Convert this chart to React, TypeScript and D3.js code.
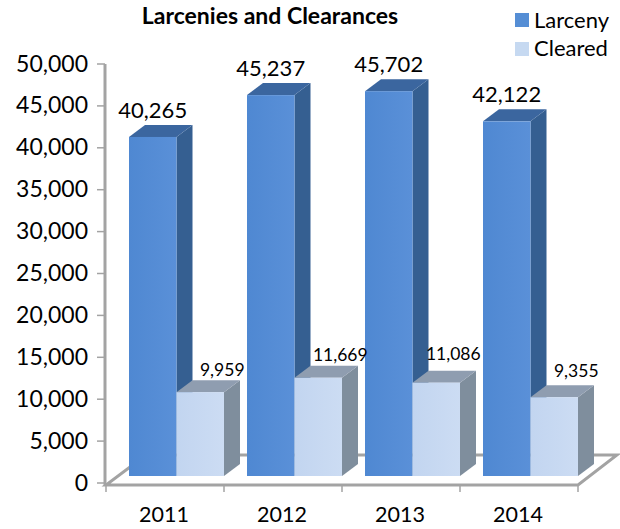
import * as d3 from "d3";

const years = ["2011", "2012", "2013", "2014"];
const larceny = [40265, 45237, 45702, 42122];
const cleared = [9959, 11669, 11086, 9355];
const yTicks = [0, 5000, 10000, 15000, 20000, 25000, 30000, 35000, 40000, 45000, 50000];

const W = 620;
const H = 529;
const FONT = "Lato, Carlito, sans-serif";
const GRAY = "#a3a3a3";
const DX = 16; // bar depth
const DY = 12;

const fmt = d3.format(",");

function App() {
  const x = d3.scaleBand().domain(years).range([106, 578]);
  // axis on the wall and bars on the floor sit on slightly different planes
  const yAxis = d3.scaleLinear().domain([0, 50000]).range([483, 64]);
  const yBar = d3.scaleLinear().domain([0, 50000]).range([476, 55]);
  const inner = d3.scaleBand().domain(["larceny", "cleared"]).range([23, 118]);
  const base = yBar(0);
  const bw = inner.bandwidth();

  const bar = (left: number, v: number, front: string, side: string, top: string, key: string) => {
    const t = yBar(v);
    const r = left + bw;
    return (
      <g key={key}>
        <polygon points={`${r},${t} ${r + DX},${t - DY} ${r + DX},${base - DY} ${r},${base}`} fill={side} />
        <polygon points={`${left},${t} ${left + DX},${t - DY} ${r + DX},${t - DY} ${r},${t}`} fill={top} />
        <rect x={left} y={t} width={bw} height={base - t} fill={front} />
      </g>
    );
  };

  return (
    <svg width={W} height={H} style={{ position: "absolute", left: 0, top: 0, background: "#fff" }}>
      <defs>
        <linearGradient id="blue" x1="0" x2="1" y1="0" y2="0">
          <stop offset="0" stopColor="#4f88d2" />
          <stop offset="1" stopColor="#5a90d8" />
        </linearGradient>
        <linearGradient id="light" x1="0" x2="1" y1="0" y2="0">
          <stop offset="0" stopColor="#c2d5f0" />
          <stop offset="1" stopColor="#ccdcf3" />
        </linearGradient>
      </defs>

      {/* floor */}
      <polygon
        points={`106,485 578,485 617,455 146,455`}
        fill="#fff"
        stroke={GRAY}
        strokeWidth={3}
      />

      {/* y axis */}
      <line x1={105} x2={105} y1={yAxis(50000)} y2={486} stroke={GRAY} strokeWidth={3} />
      {yTicks.map((t) => (
        <g key={t}>
          <line x1={97} x2={105} y1={yAxis(t)} y2={yAxis(t)} stroke={GRAY} strokeWidth={1.5} />
          <text x={88} y={yAxis(t) + 7.5} textAnchor="end" fontSize={23} fontFamily={FONT} fill="#000">
            {fmt(t)}
          </text>
        </g>
      ))}

      {/* x ticks and labels */}
      {[...years.map((y) => x(y)!), 578].map((v) => (
        <line key={v} x1={v} x2={v} y1={485} y2={492} stroke={GRAY} strokeWidth={1.5} />
      ))}
      {years.map((y) => (
        <text key={y} x={x(y)! + 58} y={522} textAnchor="middle" fontSize={21.5} fontFamily={FONT} fill="#000">
          {y}
        </text>
      ))}

      {/* bars */}
      {years.map((y, i) => (
        <g key={y}>
          {bar(x(y)! + inner("larceny")!, larceny[i], "url(#blue)", "#355f91", "#3b669f", y + "l")}
          {bar(x(y)! + inner("cleared")!, cleared[i], "url(#light)", "#7f8e9d", "#8f9db0", y + "c")}
        </g>
      ))}

      {/* data labels, the small ones were nudged by hand in the original */}
      {years.map((y, i) => (
        <g key={y} fontFamily={FONT} fill="#000" textAnchor="middle">
          <text x={x(y)! + inner("larceny")! + bw / 2} y={yBar(larceny[i]) - 19} fontSize={22}>
            {fmt(larceny[i])}
          </text>
          <text
            x={x(y)! + inner("cleared")! + bw / 2 + (i === 2 ? 17 : 22)}
            y={yBar(cleared[i]) - [16, 17, 23, 20][i]}
            fontSize={17.5}
          >
            {fmt(cleared[i])}
          </text>
        </g>
      ))}

      <text x={270} y={24} textAnchor="middle" fontSize={23} fontWeight={700} fontFamily={FONT} fill="#000">
        Larcenies and Clearances
      </text>

      {/* legend */}
      <rect x={515} y={13} width={14} height={14} fill="#558ed5" />
      <text x={534} y={28} fontSize={22} fontFamily={FONT} fill="#000">
        Larceny
      </text>
      <rect x={515} y={42} width={14} height={14} fill="#c6d9f1" />
      <text x={534} y={56} fontSize={22} fontFamily={FONT} fill="#000">
        Cleared
      </text>
    </svg>
  );
}

export default App;
